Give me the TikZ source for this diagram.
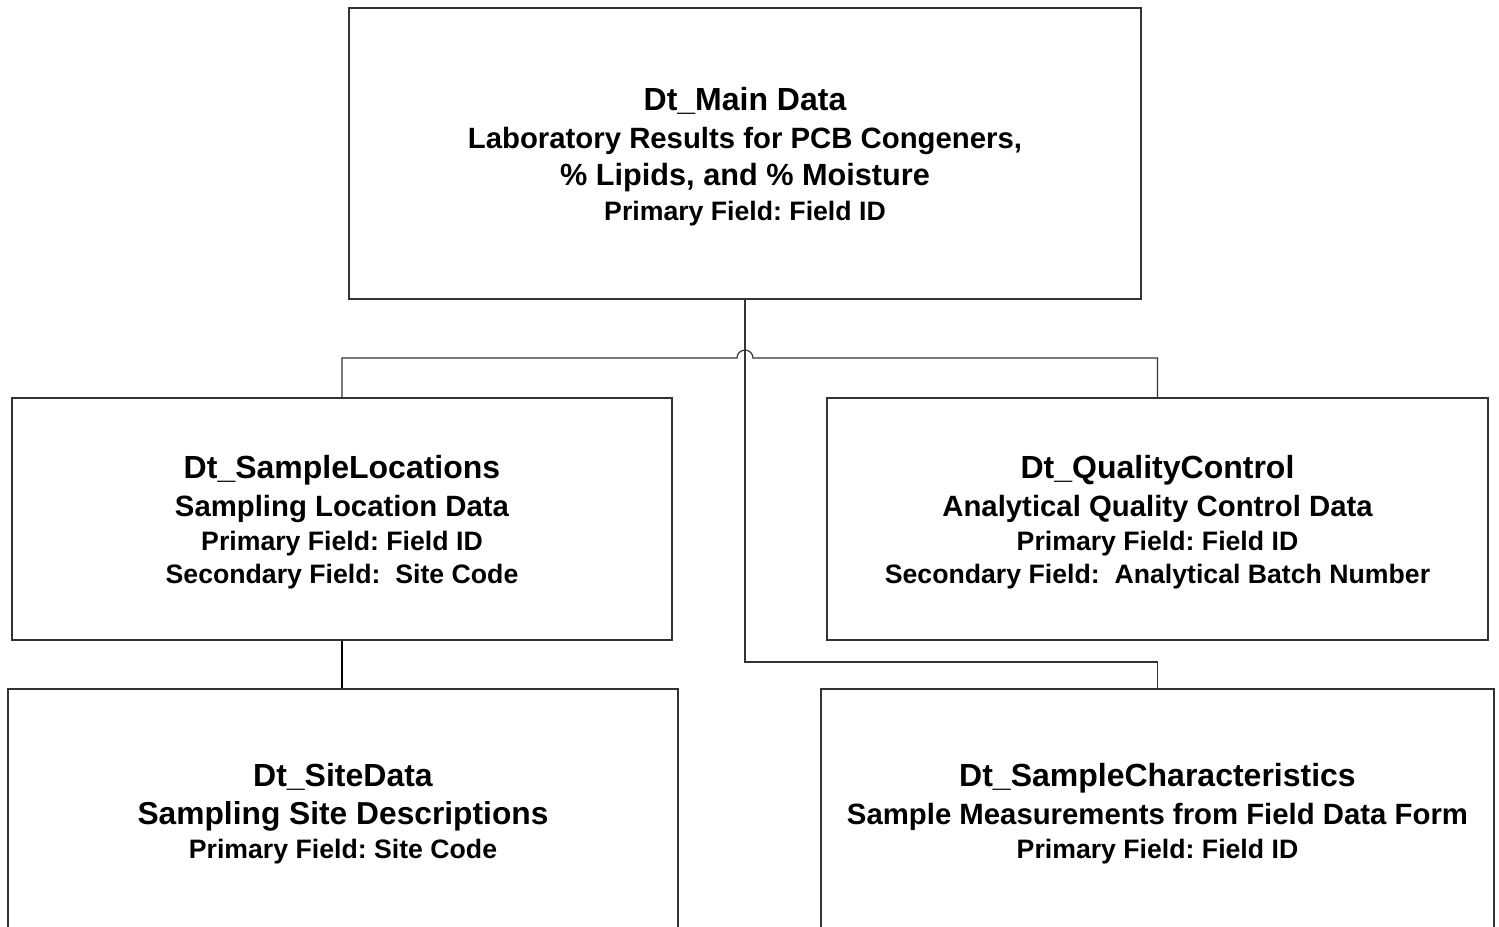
\documentclass[tikz,border=0pt]{standalone}
\usepackage{fontspec}
\setmainfont{Liberation Sans}
\frenchspacing
\begin{document}
\begin{tikzpicture}[x=0.75pt,y=-0.75pt,
  box/.style={draw=black!80,line width=0.9pt,rectangle,inner sep=0pt},
  conn/.style={draw=black!80,line width=0.9pt},
  title/.style={font=\bfseries\fontsize{24pt}{28pt}\selectfont,anchor=base,inner sep=0pt},
  big/.style={font=\bfseries\fontsize{22pt}{26pt}\selectfont,anchor=base,inner sep=0pt},
  small/.style={font=\bfseries\fontsize{20pt}{24pt}\selectfont,anchor=base,inner sep=0pt}]
\useasboundingbox (0,0) rectangle (1499,926);
\clip (0,0) rectangle (1499,926);
% boxes
\node[box,minimum width=792*0.75pt,minimum height=291*0.75pt] (main) at (745,153.5) {};
\node[box,minimum width=660*0.75pt,minimum height=242*0.75pt] (sl) at (342,519) {};
\node[box,minimum width=661*0.75pt,minimum height=242*0.75pt] (qc) at (1157.5,519) {};
\node[box,minimum width=670*0.75pt,minimum height=260*0.75pt] (sd) at (343,819) {};
\node[box,minimum width=673*0.75pt,minimum height=260*0.75pt] (sc) at (1157.5,819) {};
% texts
\node[title] (m1) at (745,110.5) {Dt\_Main Data};
\node[big] (m2) at (745,148.5) {Laboratory Results for PCB Congeners,};
\node[big,font=\bfseries\fontsize{23pt}{27pt}\selectfont] (m3) at (745,185.5) {\% Lipids, and \% Moisture};
\node[small] (m4) at (745,220.5) {Primary Field: Field ID};
\node[title] (l1) at (342,478.5) {Dt\_SampleLocations};
\node[big] (l2) at (342,516.5) {Sampling Location Data};
\node[small] (l3) at (342,550.5) {Primary Field: Field ID};
\node[small] (l4) at (342,583.5) {Secondary Field:\ \ Site Code};
\node[title] (q1) at (1157.5,478.5) {Dt\_QualityControl};
\node[big] (q2) at (1157.5,516.5) {Analytical Quality Control Data};
\node[small] (q3) at (1157.5,550.5) {Primary Field: Field ID};
\node[small] (q4) at (1157.5,583.5) {Secondary Field:\ \ Analytical Batch Number};
\node[title] (d1) at (343,786.5) {Dt\_SiteData};
\node[big,font=\bfseries\fontsize{23.8pt}{28pt}\selectfont] (d2) at (343,824.5) {Sampling Site Descriptions};
\node[small] (d3) at (343,858.5) {Primary Field: Site Code};
\node[title] (c1) at (1157.5,786.5) {Dt\_SampleCharacteristics};
\node[big] (c2) at (1157.5,824.5) {Sample Measurements from Field Data Form};
\node[small] (c3) at (1157.5,858.5) {Primary Field: Field ID};
% connectors
\coordinate (busL) at (342,358);
\coordinate (hopL) at (737,358);
\coordinate (busR) at (1157.5,358);
\coordinate (turn) at (745,662);
\draw[conn] (sl.north) -- (busL) -- (hopL) arc[start angle=180,end angle=360,radius=8] -- (busR) -- (qc.north);
\draw[conn] (main.south) -- (turn) -| (sc.north);
\draw[line width=2.2pt,black] (sl.south) -- (sl.south |- sd.north);
\end{tikzpicture}
\end{document}
